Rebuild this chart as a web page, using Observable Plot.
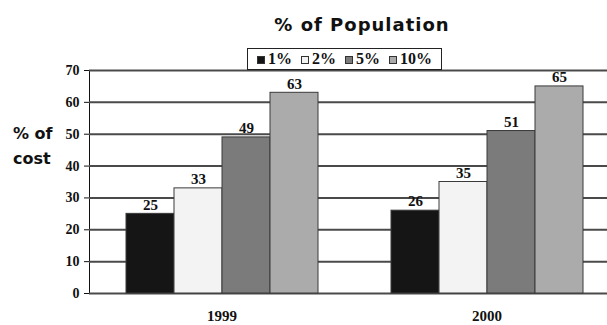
<!DOCTYPE html>
<html>
<head>
<meta charset="utf-8">
<script src="https://cdn.jsdelivr.net/npm/d3@7"></script>
<script src="https://cdn.jsdelivr.net/npm/@observablehq/plot@0.6"></script>
<style>
  html, body { margin: 0; padding: 0; background: #fff; }
  #wrap { position: relative; width: 607px; height: 325px; overflow: hidden; }
  #title { position: absolute; left: 262px; width: 200px; top: 14px; text-align: center; white-space: nowrap;
    font-family: "DejaVu Sans", sans-serif; font-weight: bold; font-size: 18px; letter-spacing: 1px; color: #111; }
  #ylab { position: absolute; left: 13px; top: 121px; font-family: "DejaVu Sans", sans-serif;
    font-weight: bold; font-size: 16px; line-height: 25px; color: #111; }
  #legend { position: absolute; left: 247px; top: 48px; width: 195px; height: 22px; box-sizing: border-box;
    border: 1px solid #222; background: #fff; display: flex; align-items: center; justify-content: center; gap: 9px;
    font-family: "Liberation Serif", serif; font-weight: bold; font-size: 16px; color: #111; white-space: nowrap; }
  #legend span.sw { display: inline-block; width: 8px; height: 8px; border: 1px solid #333; box-sizing: border-box; margin-right: 3px; vertical-align: 0px; }
</style>
</head>
<body>
<div id="wrap">
  <div id="chart"></div>
  <div id="title">% of Population</div>
  <div id="ylab">% of<br>cost</div>
  <div id="legend"></div>
</div>
<script>
const years = [1999, 2000];
const series = ["1%", "2%", "5%", "10%"];
const values1999 = [25, 33, 49, 63];
const values2000 = [26, 35, 51, 65];
const yTicks = [0, 10, 20, 30, 40, 50, 60, 70];
const colors = ["#151515", "#f3f3f3", "#7b7b7b", "#ababab"];

const valuesByYear = [values1999, values2000];
const data = years.flatMap((yr, i) => series.map((s, j) => ({year: yr, series: s, value: valuesByYear[i][j]})));

const chart = Plot.plot({
  width: 607,
  height: 325,
  marginTop: 70,
  marginBottom: 32,
  marginLeft: 89,
  marginRight: -12,
  style: {fontFamily: "Liberation Serif, serif", fontWeight: "bold", fontSize: "14px", color: "#111", background: "white", overflow: "hidden"},
  facet: {data, x: "year"},
  fx: {domain: years, padding: 0, label: null, axis: "bottom", tickSize: 0, tickPadding: 17, tickFormat: d => String(d)},
  x: {domain: series, axis: null, paddingInner: 0, paddingOuter: 0.75},
  y: {domain: [0, 70], ticks: yTicks, label: null, tickSize: 5, tickPadding: 5, line: true},
  color: {domain: series, range: colors},
  marks: [
    Plot.ruleY(yTicks, {stroke: "#4a4a4a", strokeWidth: 2, facet: false}),
    Plot.barY(data, {x: "series", y: "value", fill: "series", stroke: "#3a3a3a", strokeWidth: 1}),
    Plot.text(data, {x: "series", y: "value", text: "value", dy: -9, fontSize: 15, fill: "#111"})
  ]
});
chart.querySelectorAll('[aria-label="fx-axis"] text, [aria-label="fx-axis tick label"] text').forEach(t => t.setAttribute("font-size", "15"));
document.getElementById("chart").appendChild(chart);

const legend = document.getElementById("legend");
series.forEach((s, i) => {
  const item = document.createElement("span");
  const sw = document.createElement("span");
  sw.className = "sw";
  sw.style.background = colors[i];
  item.appendChild(sw);
  item.appendChild(document.createTextNode(s));
  legend.appendChild(item);
});
</script>
</body>
</html>
